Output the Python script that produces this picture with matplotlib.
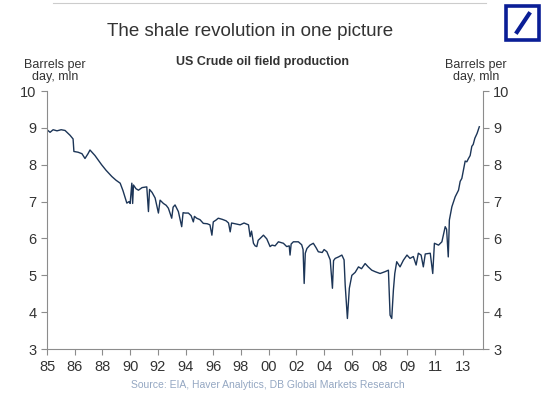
import matplotlib.pyplot as plt
from matplotlib.patches import Rectangle
from matplotlib.lines import Line2D

plt.rcParams['font.family'] = ['Liberation Sans', 'DejaVu Sans']

# x positions are in tick units (tick i = label i)
tick_labels = ['85', '86', '88', '90', '92', '94', '96', '98', '00', '02',
               '04', '06', '08', '09', '11', '13']

x = [0.00, 0.11, 0.22, 0.36, 0.51, 0.65, 0.83, 0.94, 0.97, 1.12, 1.26, 1.37,
     1.48, 1.55, 1.73, 1.97, 2.13, 2.34, 2.49, 2.64, 2.74, 2.82, 2.88, 2.96,
     3.00, 3.06, 3.09, 3.12, 3.21, 3.30, 3.43, 3.60, 3.66, 3.70, 3.79, 3.90,
     4.02, 4.08, 4.20, 4.30, 4.38, 4.50, 4.55, 4.62, 4.74, 4.86, 4.91, 4.98,
     5.10, 5.20, 5.28, 5.32, 5.40, 5.52, 5.64, 5.78, 5.88, 5.95, 6.00, 6.10,
     6.18, 6.32, 6.46, 6.55, 6.61, 6.66, 6.79, 6.97, 7.11, 7.27, 7.33, 7.38,
     7.45, 7.51, 7.57, 7.62, 7.69, 7.81, 7.93, 8.05, 8.12, 8.23, 8.35, 8.53,
     8.65, 8.74, 8.77, 8.81, 8.89, 9.07, 9.19, 9.24, 9.28, 9.32, 9.38, 9.49,
     9.61, 9.71, 9.79, 9.93, 10.00, 10.10, 10.22, 10.30, 10.34, 10.40, 10.52,
     10.64, 10.72, 10.76, 10.84, 10.91, 11.00, 11.12, 11.24, 11.35, 11.48,
     11.59, 11.72, 11.84, 12.02, 12.20, 12.32, 12.38, 12.44, 12.50, 12.55,
     12.62, 12.74, 12.86, 12.99, 13.10, 13.22, 13.32, 13.40, 13.50, 13.58,
     13.65, 13.83, 13.92, 13.98, 14.13, 14.25, 14.37, 14.42, 14.48, 14.52,
     14.61, 14.73, 14.85, 14.91, 14.97, 15.03, 15.09, 15.15, 15.21, 15.27,
     15.33, 15.38, 15.44, 15.52, 15.60]

production = [8.95, 8.88, 8.95, 8.92, 8.95, 8.93, 8.80, 8.70, 8.36, 8.34, 8.30,
              8.17, 8.30, 8.40, 8.25, 8.00, 7.85, 7.68, 7.58, 7.50, 7.30, 7.10,
              6.96, 7.00, 6.95, 7.50, 6.95, 7.45, 7.35, 7.31, 7.38, 7.40, 6.73,
              7.33, 7.25, 7.10, 6.69, 7.04, 6.95, 6.90, 6.82, 6.55, 6.85, 6.91,
              6.73, 6.32, 6.70, 6.69, 6.69, 6.62, 6.45, 6.60, 6.55, 6.51, 6.41,
              6.40, 6.37, 6.09, 6.45, 6.50, 6.55, 6.52, 6.48, 6.42, 6.18, 6.42,
              6.40, 6.37, 6.42, 6.37, 6.05, 6.20, 5.87, 5.80, 5.78, 5.95, 6.00,
              6.09, 5.99, 5.78, 5.82, 5.80, 5.91, 5.87, 5.78, 5.80, 5.55, 5.85,
              5.91, 5.91, 5.83, 5.70, 4.78, 5.60, 5.73, 5.82, 5.87, 5.75, 5.64,
              5.62, 5.70, 5.64, 5.42, 4.65, 5.40, 5.46, 5.50, 5.55, 5.42, 4.74,
              3.83, 4.65, 5.00, 5.08, 5.23, 5.18, 5.32, 5.23, 5.14, 5.10, 5.05,
              5.10, 5.14, 3.92, 3.83, 4.60, 5.05, 5.37, 5.23, 5.41, 5.55, 5.46,
              5.51, 5.28, 5.60, 5.55, 5.23, 5.58, 5.60, 5.05, 5.87, 5.82, 5.91,
              6.32, 6.25, 5.50, 6.50, 6.86, 7.13, 7.31, 7.55, 7.63, 7.86, 8.10,
              8.08, 8.17, 8.25, 8.50, 8.55, 8.72, 8.85, 9.03]

y_ticks = [3, 4, 5, 6, 7, 8, 9, 10]

axis_grey = '#8c8c8c'
text_dark = '#333333'

fig = plt.figure(figsize=(5.5, 3.94), dpi=100)
ax = fig.add_axes([0.0855, 0.114, 0.7925, 0.655])

ax.plot(x, production, color='#1c3557', linewidth=1.0)

ax.set_xlim(0, 15.73)
ax.set_ylim(3, 10)
ax.set_xticks(range(len(tick_labels)))
ax.set_xticklabels(tick_labels)
ax.set_yticks(y_ticks)
ax.tick_params(axis='both', colors=axis_grey, labelcolor=text_dark,
               labelsize=10.5, length=4, width=0.8)
ax.tick_params(axis='y', right=True, labelright=True)

ax.spines['top'].set_visible(False)
for side in ['left', 'right', 'bottom']:
    ax.spines[side].set_color(axis_grey)
    ax.spines[side].set_linewidth(0.8)

# titles and labels
fig.text(250 / 550, 1 - 32 / 394, 'The shale revolution in one picture',
         ha='center', va='center', fontsize=13.5, color=text_dark)
fig.text(263 / 550, 1 - 62 / 394, 'US Crude oil field production',
         ha='center', va='center', fontsize=9, fontweight='bold', color=text_dark)
fig.text(55 / 550, 1 - 71 / 394, 'Barrels per\nday, mln', ha='center',
         va='center', fontsize=9, color=text_dark, linespacing=1.1)
fig.text(476 / 550, 1 - 71 / 394, 'Barrels per\nday, mln', ha='center',
         va='center', fontsize=9, color=text_dark, linespacing=1.1)
fig.text(268 / 550, 1 - 385 / 394,
         'Source: EIA, Haver Analytics, DB Global Markets Research',
         ha='center', va='center', fontsize=7.5, color='#94a7c2')

# thin rule at the top
fig.add_artist(Line2D([53 / 550, 486 / 550], [1 - 3 / 394, 1 - 3 / 394],
                      color='#cccccc', linewidth=0.8))

# Deutsche Bank logo
fig.add_artist(Rectangle((506 / 550, 1 - 40 / 394), 33 / 550, 34 / 394,
                         fill=False, edgecolor='#0a1e96', linewidth=2.6))
fig.add_artist(Line2D([517 / 550, 529 / 550], [1 - 32 / 394, 1 - 14 / 394],
                      color='#0a1e96', linewidth=3.0))

fig.savefig('out.png', dpi=100)
